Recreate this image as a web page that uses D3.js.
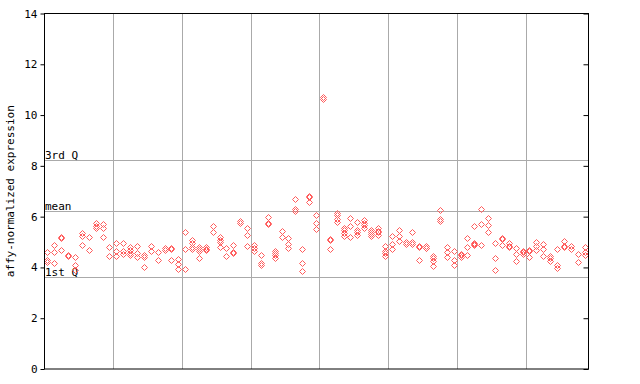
<!DOCTYPE html>
<html>
<head>
<meta charset="utf-8">
<script src="https://cdn.jsdelivr.net/npm/d3@7"></script>
<style>
  body { margin: 0; background: #fff; }
  text { font-family: "DejaVu Sans Mono", monospace; font-size: 11px; fill: #000; }
</style>
</head>
<body>
<script>
// one entry per sample column, replicate values in each
var sampleValues = [
  [4.6, 4.3, 4.22], [4.9, 4.6, 4.17], [5.2, 5.15, 4.7], [4.5, 4.45], [4.4, 4.1, 3.9],
  [5.35, 5.25, 4.88], [5.2, 4.7], [5.75, 5.62, 5.55], [5.72, 5.57, 5.19], [4.8, 4.44],
  [4.95, 4.65, 4.44], [4.97, 4.66, 4.54], [4.8, 4.7, 4.56, 4.47], [4.85, 4.56, 4.43], [4.5, 4.42, 4.01],
  [4.85, 4.63], [4.6, 4.29], [4.78, 4.68], [4.78, 4.73, 4.29], [4.35, 4.12, 3.95],
  [5.39, 4.72, 3.93], [5.08, 4.95, 4.82, 4.72], [4.8, 4.72, 4.66, 4.37], [4.8, 4.72, 4.67], [5.62, 5.39],
  [5.18, 5.09, 5.0, 4.8], [4.76, 4.44], [4.88, 4.6, 4.56], [5.82, 5.76], [5.55, 5.27, 4.84],
  [4.88, 4.78, 4.64], [4.48, 4.19, 4.11], [5.98, 5.75, 5.7], [4.65, 4.56, 4.47, 4.39], [5.42, 5.19],
  [5.15, 4.93, 4.76], [6.69, 6.31, 6.24], [4.72, 4.17, 3.85], [6.8, 6.76, 6.56], [6.06, 5.75, 5.52],
  [10.72, 10.65], [5.1, 5.07, 4.72], [6.14, 6.05, 5.92, 5.79], [5.57, 5.48, 5.35, 5.22], [5.94, 5.63, 5.19],
  [5.79, 5.48, 5.38, 5.26], [5.85, 5.76, 5.67, 5.57], [5.48, 5.39, 5.31, 5.22], [5.56, 5.45, 5.38, 5.27], [4.85, 4.65, 4.56, 4.46],
  [5.23, 4.92, 4.73], [5.47, 5.23, 5.04], [5.01, 4.92], [5.39, 5.01, 4.92], [4.84, 4.8, 4.29],
  [4.85, 4.78, 4.75], [4.46, 4.37, 4.26, 4.05], [6.26, 5.9, 5.82], [4.82, 4.61, 4.43], [4.65, 4.3, 4.11],
  [4.54, 4.5, 4.42], [5.15, 4.8, 4.48], [5.64, 4.98, 4.94, 4.88], [6.3, 5.72, 4.88], [5.94, 5.67, 5.39],
  [4.96, 4.37, 3.9], [5.15, 5.11, 4.9], [4.96, 4.84, 4.8], [4.77, 4.52, 4.25], [4.66, 4.62, 4.51],
  [4.69, 4.65, 4.43], [5.01, 4.84, 4.68], [4.93, 4.72, 4.44], [4.46, 4.37, 4.27], [4.72, 4.09, 3.98],
  [5.04, 4.84, 4.8], [4.85, 4.73], [4.52, 4.21], [4.8, 4.61, 4.48]
];
var yTicks = [0, 2, 4, 6, 8, 10, 12, 14];
var statNames = ["3rd Q", "mean", "1st Q"];
var statValues = [8.24, 6.23, 3.62];
var groupSize = 10;
var yLabel = "affy-normalized expression";

function init(){
    var w = 640;
    var h = 384;
    var left = 44, right = 588, top = 13.5, bottom = 369;

    var svg = d3.select("body")
                .append("svg")
                .attr("width", w)
                .attr("height", h);

    var xScale = d3.scaleLinear()
                    .domain([0, sampleValues.length])
                    .range([left, right]);
    var yScale = d3.scaleLinear()
                    .domain([0, 14])
                    .range([bottom, top]);

    // vertical separators between sample groups
    var seps = d3.range(groupSize, sampleValues.length, groupSize);
    svg.selectAll("line.vsep")
        .data(seps)
        .enter()
        .append("line")
        .attr("x1", function(d){ return Math.round(xScale(d)) + 0.5; })
        .attr("x2", function(d){ return Math.round(xScale(d)) + 0.5; })
        .attr("y1", top)
        .attr("y2", bottom)
        .attr("stroke", "#aaaaaa");

    // quartile / mean lines
    svg.selectAll("line.stat")
        .data(statValues)
        .enter()
        .append("line")
        .attr("x1", left)
        .attr("x2", right)
        .attr("y1", function(d){ return Math.round(yScale(d)) + 0.5; })
        .attr("y2", function(d){ return Math.round(yScale(d)) + 0.5; })
        .attr("stroke", "#aaaaaa");

    svg.selectAll("text.stat")
        .data(statValues)
        .enter()
        .append("text")
        .attr("x", left + 1)
        .attr("y", function(d){ return Math.round(yScale(d)) - 1; })
        .text(function(d, i){ return statNames[i]; });

    // points
    var pts = [];
    sampleValues.forEach(function(vals, i){
        vals.forEach(function(v){ pts.push([i, v]); });
    });
    svg.selectAll("path.pt")
        .data(pts)
        .enter()
        .append("path")
        .attr("d", function(d){
            var cx = Math.round(xScale(d[0] + 0.5)) + 0.5;
            var cy = Math.round(yScale(d[1])) + 0.5;
            return "M" + cx + "," + (cy - 3) + "L" + (cx + 3) + "," + cy +
                   "L" + cx + "," + (cy + 3) + "L" + (cx - 3) + "," + cy + "Z";
        })
        .attr("fill", "none")
        .attr("stroke", "#ff5a5a")
        .attr("stroke-width", 1);

    // frame
    svg.append("rect")
        .attr("x", left + 0.5)
        .attr("y", top)
        .attr("width", right - left)
        .attr("height", bottom - top)
        .attr("fill", "none")
        .attr("stroke", "#000");

    var yAxis = d3.axisLeft(yScale)
                    .tickValues(yTicks)
                    .tickSize(4)
                    .tickPadding(3);
    svg.append("g")
        .attr("transform", "translate(" + (left + 0.5) + ",0)")
        .call(yAxis)
        .call(function(g){ g.select(".domain").remove(); })
        .selectAll("text")
        .style("font-family", "DejaVu Sans Mono")
        .style("font-size", "11px");

    var yAxisR = d3.axisLeft(yScale)
                    .tickValues(yTicks)
                    .tickSize(5)
                    .tickFormat("");
    svg.append("g")
        .attr("transform", "translate(" + (right + 0.5) + ",0)")
        .call(yAxisR)
        .call(function(g){ g.select(".domain").remove(); });

    svg.append("text")
        .attr("transform", "translate(14," + ((top + bottom) / 2) + ") rotate(-90)")
        .attr("text-anchor", "middle")
        .text(yLabel);
}
window.onload = init;
</script>
</body>
</html>
